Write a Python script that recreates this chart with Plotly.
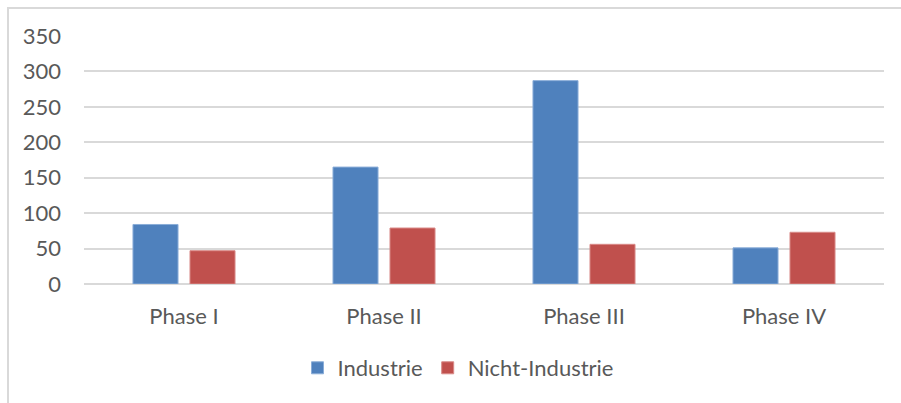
import plotly.graph_objects as go

categories = ["Phase I", "Phase II", "Phase III", "Phase IV"]
industrie = [84, 165, 287, 51]
nicht_industrie = [47, 79, 56, 73]
y_ticks = [0, 50, 100, 150, 200, 250, 300, 350]

FONT = "Lato"
TXT = "#595959"
FS = 22

fig = go.Figure()
fig.add_trace(go.Bar(name="Industrie", x=categories, y=industrie,
                     marker=dict(color="#4F81BD", line=dict(color="#8AADD8", width=1))))
fig.add_trace(go.Bar(name="Nicht-Industrie", x=categories, y=nicht_industrie,
                     marker=dict(color="#C0504D", line=dict(color="#D98A88", width=1))))

W, H = 901, 403
L, R, T, B = 84, 17, 36, 119
pw, ph = W - L - R, H - T - B

def px_x(p):
    return (p - L) / pw

def px_y(p):
    return (H - B - p) / ph

fig.update_layout(
    width=W, height=H,
    margin=dict(l=L, r=R, t=T, b=B, pad=0),
    paper_bgcolor="white", plot_bgcolor="white",
    barmode="group", bargap=0.43, bargroupgap=0.21,
    font=dict(family=FONT, size=FS, color=TXT),
    showlegend=True,
    legend=dict(orientation="h", x=px_x(458), xanchor="center", y=px_y(368), yanchor="middle",
                font=dict(family=FONT, size=FS, color=TXT), itemwidth=30,
                traceorder="normal", bgcolor="rgba(0,0,0,0)"),
    xaxis=dict(showgrid=False, showline=False, zeroline=False, ticks="",
               ticklabelstandoff=17, tickfont=dict(family=FONT, size=FS, color=TXT)),
    yaxis=dict(range=[0, 350], tickvals=y_ticks, showgrid=True, gridcolor="#D9D9D9", gridwidth=2,
               zeroline=True, zerolinecolor="#D9D9D9", zerolinewidth=2,
               showline=False, ticks="", ticklabelstandoff=22,
               tickfont=dict(family=FONT, size=FS, color=TXT)),
    shapes=[dict(type="rect", xref="paper", yref="paper",
                 x0=px_x(8), x1=px_x(960), y0=px_y(460), y1=px_y(8),
                 line=dict(color="#D9D9D9", width=2), fillcolor="rgba(0,0,0,0)", layer="below")],
)

fig.write_html("out.html")
